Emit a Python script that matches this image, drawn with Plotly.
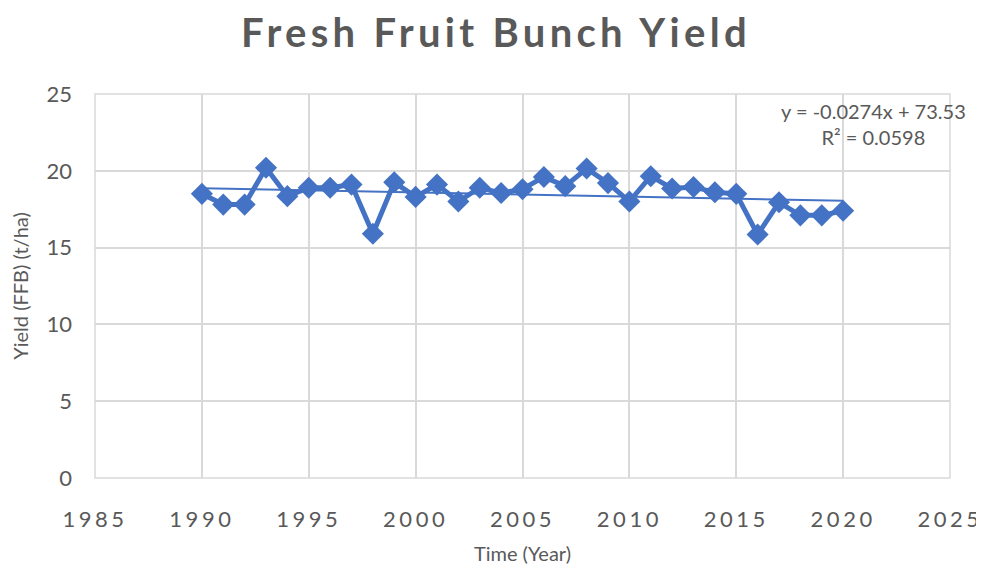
import numpy as np
import plotly.graph_objects as go

years = list(range(1990, 2021))
yield_ffb = [18.5, 17.8, 17.8, 20.2, 18.35, 18.9, 18.9, 19.1, 15.9, 19.25,
             18.3, 19.1, 18.0, 18.9, 18.55, 18.8, 19.6, 19.0, 20.15, 19.2,
             18.0, 19.65, 18.85, 18.95, 18.6, 18.5, 15.85, 17.95, 17.1, 17.1, 17.4]
x_ticks = [1985, 1990, 1995, 2000, 2005, 2010, 2015, 2020, 2025]
y_ticks = [0, 5, 10, 15, 20, 25]
title_text = "Fresh Fruit Bunch Yield"
equation_text = "y = -0.0274x + 73.53"
r2_text = "R² = 0.0598"

BLUE = "#4472C4"
GRAY = "#595959"
FONT = "Lato"

slope, intercept = np.polyfit(years, yield_ffb, 1)
trend_x = [years[0], years[-1]]
trend_y = [slope * v + intercept for v in trend_x]

fig = go.Figure()
fig.add_trace(go.Scatter(
    x=years, y=yield_ffb, mode="lines+markers",
    line=dict(color=BLUE, width=5),
    marker=dict(symbol="diamond", size=17, color=BLUE),
    showlegend=False, hoverinfo="x+y"))
fig.add_trace(go.Scatter(
    x=trend_x, y=trend_y, mode="lines",
    line=dict(color=BLUE, width=2), showlegend=False))

def spaced(t, px):
    return f'<span style="letter-spacing:{px}px">{t}</span>'

fig.update_layout(
    width=976, height=559,
    margin=dict(l=87, r=34, t=86, b=89),
    paper_bgcolor="white", plot_bgcolor="white",
    font=dict(family=FONT, color=GRAY),
    title=dict(text=spaced(title_text, 4.3), x=0.5, xanchor="center",
               y=0.955, yanchor="middle",
               font=dict(size=40, family=FONT, color=GRAY, weight="bold")),
    xaxis=dict(range=[1985, 2025], tickvals=x_ticks,
               ticktext=[spaced(str(v), 3.5) for v in x_ticks],
               showgrid=True, gridcolor="#d9d9d9", gridwidth=1.5,
               zeroline=False, showline=False, ticks="",
               ticklabelstandoff=26, automargin=False,
               tickfont=dict(size=22, color=GRAY),
               title=dict(text="Time (Year)", font=dict(size=20, color=GRAY), standoff=15)),
    yaxis=dict(range=[0, 25], tickvals=y_ticks,
               showgrid=True, gridcolor="#d9d9d9", gridwidth=1.5,
               zeroline=False, showline=False, ticks="",
               ticklabelstandoff=22, automargin=False,
               tickfont=dict(size=22, color=GRAY),
               title=dict(text="Yield (FFB) (t/ha)", font=dict(size=20, color=GRAY), standoff=12)),
    annotations=[dict(text=equation_text + "<br>" + r2_text, xref="paper", yref="paper",
                      x=0.91, y=0.922, xanchor="center", yanchor="middle", align="center",
                      showarrow=False, font=dict(size=20, color=GRAY, family=FONT))],
)
fig.add_shape(type="rect", xref="paper", yref="paper", x0=0, y0=0, x1=1, y1=1,
              line=dict(color="#d9d9d9", width=1.5), layer="below")

fig.write_html("out.html")
